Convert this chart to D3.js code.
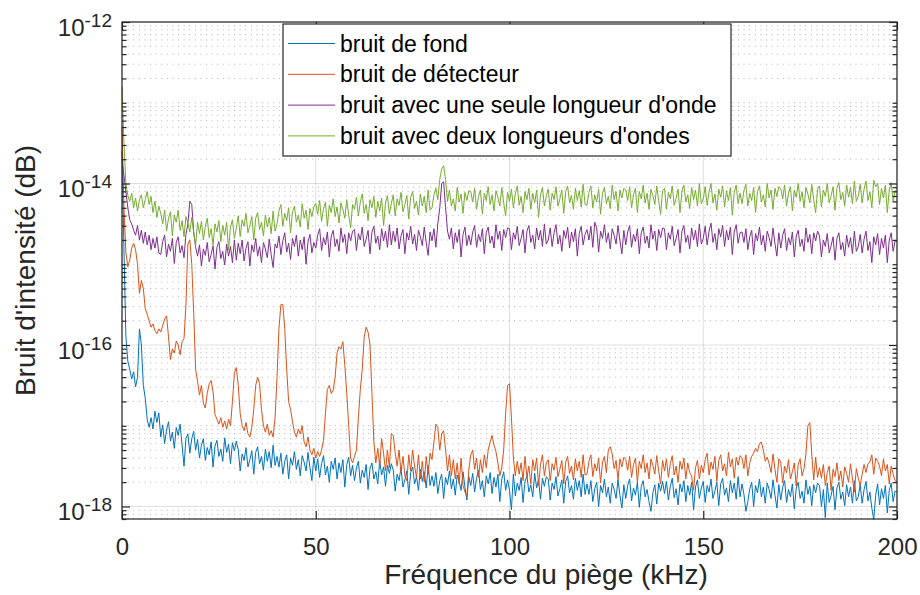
<!DOCTYPE html>
<meta charset="utf-8">
<title>Bruit d'intensité</title>
<style>
  body { margin: 0; background: #fff; }
  svg { font-family: "Liberation Sans", Arial, Helvetica, sans-serif; }
  .axis path, .axis line { stroke: #262626; stroke-width: 1.2; }
  .axis text { fill: #262626; }
  .grid line { stroke: #262626; }
  .grid.major line { stroke-opacity: 0.15; }
  .grid.minor line { stroke-opacity: 0.35; stroke-dasharray: 1,4.6; }
  path.trace { fill: none; stroke-width: 1; }
  .legend text { fill: #000; font-size: 23px; }
  .label { fill: #262626; font-size: 28px; }
</style>
<body>
<script src="https://d3js.org/d3.v7.min.js"></script>
<script>
// spectra sampled every 0.5 kHz from 0 to 200 kHz, values = log10(intensity)
var freqStep = 0.5;
var freq = d3.range(401).map(function(i) { return i * freqStep; });

var fondLog = [
  -13.6,-14.8,-15.9,-16.2,-16.3,-16.42,-16.33,-16.52,-16.4,-15.8,-16.0,-16.5,-16.66,-16.92,-17.02,-16.9,-17.04,-16.82,-16.96,-16.84,
  -17.14,-16.99,-17.22,-17.05,-16.95,-17.19,-17.08,-17.28,-17.02,-17.12,-16.98,-17.24,-17.5,-17.16,-17.1,-17.34,-17.16,-17.07,-17.3,-17.17,
  -17.4,-17.24,-17.16,-17.43,-17.27,-17.36,-17.2,-17.51,-17.25,-17.18,-17.38,-17.29,-17.44,-17.15,-17.33,-17.23,-17.47,-17.21,-17.31,-17.19,
  -17.3,-17.56,-17.35,-17.43,-17.27,-17.51,-17.42,-17.31,-17.6,-17.33,-17.26,-17.47,-17.38,-17.55,-17.29,-17.44,-17.32,-17.52,-17.24,-17.49,
  -17.38,-17.51,-17.34,-17.6,-17.44,-17.36,-17.66,-17.4,-17.49,-17.32,-17.54,-17.42,-17.62,-17.37,-17.45,-17.56,-17.33,-17.52,-17.68,-17.39,
  -17.56,-17.41,-17.64,-17.47,-17.37,-17.61,-17.5,-17.7,-17.44,-17.54,-17.4,-17.66,-17.46,-17.58,-17.42,-17.76,-17.48,-17.39,-17.62,-17.49,
  -17.68,-17.52,-17.44,-17.71,-17.55,-17.64,-17.48,-17.79,-17.53,-17.46,-17.66,-17.57,-17.72,-17.43,-17.61,-17.51,-17.75,-17.49,-17.59,-17.47,
  -17.55,-17.81,-17.6,-17.68,-17.52,-17.76,-17.67,-17.56,-17.85,-17.58,-17.51,-17.72,-17.63,-17.8,-17.54,-17.69,-17.57,-17.77,-17.49,-17.74,
  -17.62,-17.75,-17.58,-17.84,-17.68,-17.6,-17.9,-17.64,-17.73,-17.56,-17.78,-17.66,-17.86,-17.61,-17.69,-17.8,-17.57,-17.76,-17.92,-17.63,
  -17.74,-17.59,-17.82,-17.65,-17.55,-17.79,-17.68,-17.88,-17.62,-17.72,-17.58,-17.84,-17.64,-17.76,-17.6,-17.94,-17.66,-17.57,-17.8,-17.67,
  -17.8,-18.04,-17.6,-17.87,-17.71,-17.8,-17.64,-17.95,-17.69,-17.62,-17.82,-17.73,-17.88,-17.59,-17.77,-17.67,-17.91,-17.65,-17.75,-17.63,
  -17.66,-17.92,-17.71,-17.79,-17.63,-17.87,-17.78,-17.67,-17.96,-17.69,-17.62,-17.83,-17.74,-17.91,-17.65,-17.8,-17.68,-17.88,-17.6,-17.85,
  -17.72,-17.85,-17.68,-17.94,-17.78,-17.7,-18.0,-17.74,-17.83,-17.66,-17.88,-17.76,-17.96,-17.71,-17.79,-17.9,-17.67,-17.86,-18.02,-17.73,
  -17.9,-17.74,-17.66,-17.93,-17.77,-17.86,-17.7,-18.01,-17.75,-17.68,-17.88,-17.79,-17.94,-18.06,-17.83,-17.73,-17.97,-17.71,-17.81,-17.69,
  -17.84,-17.69,-17.92,-17.75,-17.65,-17.89,-17.78,-17.98,-17.72,-17.82,-17.68,-17.94,-17.74,-17.86,-17.7,-18.04,-17.76,-17.67,-17.9,-17.77,
  -17.69,-17.95,-17.74,-17.82,-17.66,-17.9,-17.81,-17.7,-17.99,-17.72,-17.65,-17.86,-17.77,-17.94,-17.68,-17.83,-17.71,-17.91,-17.63,-17.88,
  -17.72,-17.85,-18.06,-17.94,-17.78,-17.7,-18.0,-17.74,-17.83,-17.66,-17.88,-17.76,-17.96,-17.71,-17.79,-17.9,-17.67,-17.86,-18.02,-17.73,
  -17.92,-17.76,-17.68,-17.95,-17.79,-17.88,-17.72,-18.03,-17.77,-17.7,-17.9,-17.81,-17.96,-17.67,-17.85,-17.75,-17.99,-17.73,-17.83,-17.71,
  -17.74,-18.0,-17.79,-18.14,-17.71,-17.95,-17.86,-17.75,-18.04,-17.77,-17.7,-17.91,-17.82,-17.99,-17.73,-17.88,-17.76,-17.96,-17.68,-17.93,
  -17.88,-17.73,-17.96,-17.79,-17.69,-17.93,-17.82,-18.02,-18.16,-17.86,-17.72,-17.98,-17.78,-17.9,-17.74,-18.08,-17.8,-17.71,-17.94,-17.81,
  -17.82
];

var detecteurLog = [
  -13.3,-14.3,-14.85,-15.03,-14.95,-14.8,-14.74,-14.82,-15.0,-15.36,-15.2,-15.3,-15.55,-15.62,-15.7,-15.78,-15.74,-15.82,-15.86,-15.8,
  -15.84,-15.76,-15.68,-15.64,-15.9,-16.18,-16.05,-16.1,-15.95,-16.0,-16.12,-15.96,-15.92,-15.5,-14.75,-14.7,-15.0,-15.6,-16.3,-16.45,
  -16.62,-16.5,-16.72,-16.78,-16.6,-16.48,-16.44,-16.58,-16.86,-16.92,-16.98,-16.9,-17.02,-16.94,-17.04,-16.92,-17.0,-16.7,-16.35,-16.28,
  -16.5,-16.85,-17.0,-17.06,-16.96,-17.1,-17.14,-17.02,-16.8,-16.5,-16.4,-16.48,-16.8,-17.0,-17.08,-16.98,-17.12,-17.06,-17.14,-16.9,
  -16.4,-15.8,-15.5,-15.5,-15.8,-16.3,-16.7,-16.8,-16.95,-17.08,-17.14,-17.04,-17.1,-17.0,-17.2,-17.26,-17.14,-17.3,-17.36,-17.28,
  -17.4,-17.32,-17.38,-17.3,-17.18,-16.85,-16.55,-16.5,-16.6,-16.56,-16.4,-16.1,-16.02,-16.05,-15.96,-16.25,-16.6,-17.0,-17.4,-17.46,
  -17.38,-17.3,-16.9,-16.55,-16.3,-15.9,-15.78,-15.84,-16.0,-16.6,-17.2,-17.46,-17.28,-17.5,-17.16,-17.34,-17.56,-17.3,-17.52,-17.1,
  -17.12,-17.34,-17.5,-17.3,-17.58,-17.38,-17.62,-17.68,-17.36,-17.56,-17.3,-17.5,-17.64,-17.36,-17.66,-17.44,-17.7,-17.38,-17.6,-17.34,
  -17.42,-17.2,-16.98,-17.02,-17.3,-17.1,-17.06,-17.3,-17.56,-17.36,-17.62,-17.42,-17.66,-17.46,-17.72,-17.4,-17.74,-17.82,-17.88,-17.54,
  -17.36,-17.3,-17.54,-17.4,-17.64,-17.42,-17.58,-17.36,-17.52,-17.3,-17.2,-17.12,-17.24,-17.32,-17.46,-17.62,-17.52,-17.3,-16.85,-16.5,
  -16.48,-16.9,-17.4,-17.62,-17.44,-17.6,-17.46,-17.68,-17.38,-17.64,-17.5,-17.72,-17.42,-17.56,-17.4,-17.74,-17.48,-17.36,-17.62,-17.46,
  -17.42,-17.68,-17.47,-17.55,-17.39,-17.63,-17.54,-17.43,-17.72,-17.45,-17.38,-17.59,-17.5,-17.67,-17.41,-17.56,-17.44,-17.64,-17.36,-17.61,
  -17.6,-17.44,-17.36,-17.63,-17.47,-17.56,-17.4,-17.71,-17.45,-17.38,-17.58,-17.3,-17.26,-17.35,-17.53,-17.43,-17.67,-17.41,-17.51,-17.39,
  -17.42,-17.55,-17.38,-17.64,-17.48,-17.4,-17.7,-17.44,-17.53,-17.36,-17.58,-17.46,-17.66,-17.41,-17.49,-17.6,-17.37,-17.56,-17.72,-17.43,
  -17.56,-17.41,-17.64,-17.47,-17.37,-17.61,-17.5,-17.7,-17.44,-17.54,-17.4,-17.66,-17.46,-17.58,-17.62,-17.8,-17.52,-17.43,-17.66,-17.49,
  -17.58,-17.42,-17.34,-17.61,-17.45,-17.54,-17.38,-17.69,-17.43,-17.36,-17.56,-17.47,-17.62,-17.33,-17.51,-17.41,-17.65,-17.39,-17.49,-17.37,
  -17.4,-17.53,-17.36,-17.62,-17.46,-17.38,-17.34,-17.28,-17.32,-17.22,-17.2,-17.3,-17.44,-17.39,-17.47,-17.58,-17.35,-17.54,-17.7,-17.41,
  -17.45,-17.71,-17.5,-17.58,-17.42,-17.66,-17.57,-17.46,-17.75,-17.48,-17.41,-17.62,-17.53,-17.35,-17.0,-16.96,-17.35,-17.67,-17.39,-17.64,
  -17.52,-17.65,-17.48,-17.74,-17.58,-17.5,-17.8,-17.54,-17.63,-17.46,-17.68,-17.56,-17.76,-17.51,-17.59,-17.7,-17.47,-17.66,-17.82,-17.53,
  -17.65,-17.74,-17.6,-17.48,-17.58,-17.47,-17.45,-17.36,-17.6,-17.4,-17.44,-17.5,-17.62,-17.41,-17.56,-17.48,-17.72,-17.5,-17.6,-17.68,
  -17.7
];

var uneLongueurLog = [
  -13.7,-13.9,-14.1,-14.3,-14.45,-14.5,-14.58,-14.64,-14.52,-14.7,-14.58,-14.74,-14.6,-14.76,-14.64,-14.82,-14.68,-14.8,-14.66,-14.86,
  -14.88,-14.72,-14.64,-14.91,-14.75,-14.84,-14.68,-14.99,-14.73,-14.66,-14.86,-14.77,-14.92,-14.63,-14.5,-14.22,-14.26,-14.6,-14.79,-14.9,
  -14.76,-15.02,-14.81,-14.89,-14.73,-14.97,-14.88,-14.77,-15.06,-14.79,-14.72,-14.93,-14.84,-15.01,-14.75,-14.9,-14.78,-14.98,-14.7,-14.95,
  -14.74,-14.87,-14.7,-14.96,-14.8,-14.72,-15.02,-14.76,-14.85,-14.68,-14.9,-14.78,-14.98,-14.73,-14.81,-14.92,-14.69,-14.88,-15.04,-14.75,
  -14.8,-14.65,-14.88,-14.71,-14.61,-14.85,-14.74,-14.94,-14.68,-14.78,-14.64,-14.9,-14.7,-14.82,-14.66,-15.0,-14.72,-14.63,-14.86,-14.73,
  -14.8,-14.64,-14.56,-14.83,-14.67,-14.76,-14.6,-14.91,-14.65,-14.58,-14.78,-14.69,-14.84,-14.55,-14.73,-14.63,-14.87,-14.61,-14.71,-14.59,
  -14.57,-14.83,-14.62,-14.7,-14.54,-14.78,-14.69,-14.58,-14.87,-14.6,-14.53,-14.74,-14.65,-14.82,-14.56,-14.71,-14.59,-14.79,-14.51,-14.76,
  -14.59,-14.72,-14.55,-14.81,-14.65,-14.57,-14.87,-14.61,-14.7,-14.53,-14.75,-14.63,-14.83,-14.58,-14.66,-14.77,-14.54,-14.73,-14.89,-14.6,
  -14.71,-14.56,-14.79,-14.5,-14.3,-14.0,-13.98,-14.3,-14.59,-14.69,-14.55,-14.81,-14.61,-14.73,-14.57,-14.91,-14.63,-14.54,-14.77,-14.64,
  -14.76,-14.6,-14.52,-14.79,-14.63,-14.72,-14.56,-14.87,-14.61,-14.54,-14.74,-14.65,-14.8,-14.51,-14.69,-14.59,-14.83,-14.57,-14.67,-14.55,
  -14.56,-14.82,-14.61,-14.69,-14.53,-14.77,-14.68,-14.57,-14.86,-14.59,-14.52,-14.73,-14.64,-14.81,-14.55,-14.7,-14.58,-14.78,-14.5,-14.75,
  -14.7,-14.55,-14.78,-14.61,-14.51,-14.75,-14.64,-14.84,-14.58,-14.68,-14.54,-14.8,-14.6,-14.72,-14.56,-14.9,-14.62,-14.53,-14.76,-14.63,
  -14.57,-14.7,-14.53,-14.79,-14.48,-14.55,-14.85,-14.59,-14.68,-14.51,-14.73,-14.61,-14.81,-14.56,-14.64,-14.75,-14.52,-14.71,-14.87,-14.58,
  -14.76,-14.6,-14.52,-14.79,-14.63,-14.72,-14.56,-14.87,-14.61,-14.54,-14.74,-14.65,-14.8,-14.51,-14.69,-14.59,-14.83,-14.57,-14.67,-14.55,
  -14.56,-14.82,-14.61,-14.69,-14.53,-14.77,-14.68,-14.57,-14.86,-14.59,-14.52,-14.73,-14.64,-14.81,-14.55,-14.7,-14.58,-14.78,-14.5,-14.75,
  -14.68,-14.53,-14.76,-14.59,-14.49,-14.73,-14.62,-14.82,-14.56,-14.66,-14.52,-14.78,-14.58,-14.7,-14.54,-14.88,-14.6,-14.51,-14.74,-14.61,
  -14.6,-14.73,-14.56,-14.82,-14.66,-14.58,-14.88,-14.62,-14.71,-14.54,-14.76,-14.64,-14.84,-14.59,-14.67,-14.78,-14.55,-14.74,-14.9,-14.61,
  -14.8,-14.64,-14.56,-14.83,-14.67,-14.76,-14.6,-14.91,-14.65,-14.58,-14.78,-14.69,-14.84,-14.55,-14.73,-14.63,-14.87,-14.61,-14.71,-14.59,
  -14.65,-14.91,-14.7,-14.78,-14.62,-14.86,-14.77,-14.66,-14.95,-14.68,-14.61,-14.82,-14.73,-14.9,-14.64,-14.79,-14.67,-14.87,-14.59,-14.84,
  -14.78,-14.63,-14.86,-14.69,-14.59,-14.83,-14.72,-14.98,-14.66,-14.76,-14.62,-14.88,-14.68,-14.8,-14.64,-14.98,-14.7,-14.61,-14.84,-14.71,
  -14.72
];

var deuxLongueursLog = [
  -12.8,-13.5,-14.0,-14.15,-14.22,-14.12,-14.3,-14.18,-14.34,-14.2,-14.14,-14.3,-14.2,-14.1,-14.26,-14.16,-14.36,-14.22,-14.42,-14.28,
  -14.37,-14.5,-14.33,-14.59,-14.43,-14.35,-14.65,-14.39,-14.48,-14.33,-14.58,-14.46,-14.66,-14.41,-14.49,-14.6,-14.42,-14.61,-14.77,-14.48,
  -14.62,-14.47,-14.7,-14.53,-14.43,-14.67,-14.56,-14.76,-14.5,-14.6,-14.46,-14.72,-14.52,-14.64,-14.48,-14.82,-14.54,-14.45,-14.68,-14.55,
  -14.4,-14.66,-14.45,-14.53,-14.37,-14.61,-14.52,-14.41,-14.7,-14.43,-14.36,-14.57,-14.48,-14.65,-14.39,-14.54,-14.42,-14.62,-14.34,-14.59,
  -14.5,-14.34,-14.26,-14.53,-14.37,-14.46,-14.3,-14.61,-14.35,-14.28,-14.48,-14.39,-14.54,-14.25,-14.43,-14.33,-14.57,-14.31,-14.41,-14.29,
  -14.25,-14.38,-14.21,-14.47,-14.31,-14.23,-14.53,-14.27,-14.36,-14.19,-14.41,-14.29,-14.49,-14.24,-14.32,-14.43,-14.2,-14.39,-14.55,-14.26,
  -14.32,-14.17,-14.4,-14.23,-14.13,-14.37,-14.26,-14.46,-14.2,-14.3,-14.16,-14.42,-14.22,-14.34,-14.18,-14.52,-14.24,-14.15,-14.38,-14.25,
  -14.14,-14.4,-14.19,-14.27,-14.11,-14.35,-14.26,-14.15,-14.44,-14.17,-14.1,-14.31,-14.22,-14.39,-14.13,-14.28,-14.16,-14.36,-14.08,-14.33,
  -14.3,-14.14,-14.06,-14.2,-13.95,-13.82,-13.78,-13.95,-14.22,-14.08,-14.28,-14.19,-14.34,-14.05,-14.23,-14.13,-14.37,-14.11,-14.21,-14.09,
  -14.1,-14.23,-14.06,-14.32,-14.16,-14.08,-14.38,-14.12,-14.21,-14.04,-14.26,-14.14,-14.34,-14.09,-14.17,-14.28,-14.05,-14.24,-14.4,-14.11,
  -14.22,-14.07,-14.3,-14.13,-14.03,-14.27,-14.16,-14.36,-14.1,-14.2,-14.06,-14.32,-14.12,-14.24,-14.08,-14.42,-14.14,-14.05,-14.28,-14.15,
  -14.07,-14.33,-14.12,-14.2,-14.04,-14.28,-14.19,-14.08,-14.37,-14.1,-14.03,-14.24,-14.15,-14.32,-14.06,-14.21,-14.09,-14.29,-14.01,-14.26,
  -14.27,-14.11,-14.03,-14.3,-14.14,-14.23,-14.07,-14.38,-14.12,-14.05,-14.25,-14.16,-14.31,-14.02,-14.2,-14.1,-14.34,-14.08,-14.18,-14.06,
  -14.08,-14.21,-14.04,-14.3,-14.14,-14.06,-14.36,-14.1,-14.19,-14.02,-14.24,-14.12,-14.32,-14.07,-14.15,-14.26,-14.03,-14.22,-14.38,-14.09,
  -14.06,-14.32,-14.11,-14.19,-14.03,-14.27,-14.18,-14.07,-14.36,-14.09,-14.02,-14.23,-14.14,-14.31,-14.05,-14.2,-14.08,-14.28,-14.0,-14.25,
  -14.19,-14.04,-14.27,-14.1,-14.0,-14.24,-14.13,-14.33,-14.07,-14.17,-14.03,-14.29,-14.09,-14.21,-14.05,-14.39,-14.11,-14.02,-14.25,-14.12,
  -14.25,-14.09,-14.01,-14.28,-14.12,-14.21,-14.05,-14.36,-14.1,-14.03,-14.23,-14.14,-14.29,-14.0,-14.18,-14.08,-14.32,-14.06,-14.16,-14.04,
  -14.06,-14.19,-14.02,-14.28,-14.12,-14.04,-14.34,-14.08,-14.17,-14.0,-14.22,-14.1,-14.3,-14.05,-14.13,-14.24,-14.01,-14.2,-14.36,-14.07,
  -14.03,-14.29,-14.08,-14.16,-14.0,-14.24,-14.15,-14.04,-14.33,-14.06,-13.99,-14.2,-14.11,-14.28,-14.02,-14.17,-14.05,-14.25,-13.97,-14.22,
  -14.16,-14.01,-14.24,-14.07,-13.97,-14.21,-14.1,-14.3,-13.96,-14.04,-14.0,-14.26,-14.06,-14.18,-14.02,-14.36,-14.08,-13.99,-14.22,-14.09,
  -14.1
];

var legendLabels = ["bruit de fond", "bruit de détecteur", "bruit avec une seule longueur d'onde", "bruit avec deux longueurs d'ondes"];
var colors = ["#0072BD", "#D95319", "#7E2F8E", "#77AC30"];
var xTicks = [0, 50, 100, 150, 200];
var yMajor = [1e-12, 1e-14, 1e-16, 1e-18];

var series = [fondLog, detecteurLog, uneLongueurLog, deuxLongueursLog].map(function(v, i) {
  return { name: legendLabels[i], color: colors[i], values: v };
});

var margin = {top: 22, right: 23, bottom: 76, left: 122},
    width = 920 - margin.left - margin.right,
    height = 595 - margin.top - margin.bottom;

var x = d3.scaleLinear().domain([0, 200]).range([0, width]);
var y = d3.scaleLog().domain([7e-19, 1e-12]).range([height, 0]);

var isMajor = function(t) { return yMajor.some(function(m) { return Math.abs(Math.log10(t) - Math.log10(m)) < 1e-6; }); };
var yMinor = y.ticks().filter(function(t) { return !isMajor(t); });

var svg = d3.select("body").append("svg")
    .attr("width", 920)
    .attr("height", 595)
  .append("g")
    .attr("transform", "translate(" + margin.left + "," + margin.top + ")");

// grid
svg.append("g").attr("class", "grid minor")
  .selectAll("line").data(yMinor).enter().append("line")
    .attr("x1", 0).attr("x2", width)
    .attr("y1", function(d) { return y(d); }).attr("y2", function(d) { return y(d); });

svg.append("g").attr("class", "grid major")
  .selectAll("line").data(yMajor).enter().append("line")
    .attr("x1", 0).attr("x2", width)
    .attr("y1", function(d) { return y(d); }).attr("y2", function(d) { return y(d); });

svg.append("g").attr("class", "grid major")
  .selectAll("line").data(xTicks).enter().append("line")
    .attr("x1", function(d) { return x(d); }).attr("x2", function(d) { return x(d); })
    .attr("y1", 0).attr("y2", height);

// traces
var line = d3.line()
    .x(function(d, i) { return x(freq[i]); })
    .y(function(d) { return y(Math.pow(10, d)); });

svg.append("g")
  .selectAll("path").data(series).enter().append("path")
    .attr("class", "trace")
    .attr("stroke", function(d) { return d.color; })
    .attr("d", function(d) { return line(d.values); });

// axes
function noDomain(g) { g.select(".domain").remove(); }

svg.append("g").attr("class", "axis")
  .call(d3.axisLeft(y).tickValues(yMinor).tickSize(-4.5).tickFormat(""))
  .call(noDomain);
svg.append("g").attr("class", "axis")
  .attr("transform", "translate(" + width + ",0)")
  .call(d3.axisRight(y).tickValues(yMinor).tickSize(-4.5).tickFormat(""))
  .call(noDomain);
svg.append("g").attr("class", "axis")
  .attr("transform", "translate(" + width + ",0)")
  .call(d3.axisRight(y).tickValues(yMajor).tickSize(-8).tickFormat(""))
  .call(noDomain);

var yAxisG = svg.append("g").attr("class", "axis")
  .call(d3.axisLeft(y).tickValues(yMajor).tickSize(-8).tickFormat(""))
  .call(noDomain);
yAxisG.selectAll(".tick text").remove();
var yLab = yAxisG.selectAll(".tick").append("text")
    .attr("x", -10)
    .attr("y", 13.5)
    .attr("text-anchor", "end")
    .style("font-size", "24px");
yLab.append("tspan").text("10");
yLab.append("tspan")
    .attr("dy", -9)
    .style("font-size", "19px")
    .text(function(d) { return "-" + Math.round(-Math.log10(d)); });

svg.append("g").attr("class", "axis")
  .attr("transform", "translate(0," + height + ")")
  .call(d3.axisBottom(x).tickValues(xTicks).tickSize(-8).tickPadding(19).tickFormat(d3.format("d")))
  .call(noDomain)
  .selectAll("text").style("font-size", "24px").attr("dy", "0.71em");
svg.append("g").attr("class", "axis")
  .call(d3.axisTop(x).tickValues(xTicks).tickSize(-8).tickFormat(""))
  .call(noDomain);

// box
svg.append("rect")
    .attr("width", width).attr("height", height)
    .attr("fill", "none").attr("stroke", "#262626").attr("stroke-width", 1.2);

// labels
svg.append("text").attr("class", "label")
    .attr("x", 424).attr("y", height + 65)
    .attr("text-anchor", "middle")
    .text("Fréquence du piège (kHz)");
svg.append("text").attr("class", "label")
    .attr("transform", "translate(" + (-87) + "," + (height / 2) + ") rotate(-90)")
    .attr("text-anchor", "middle")
    .text("Bruit d'intensité (dB)");

// legend
var legend = svg.append("g").attr("class", "legend")
    .attr("transform", "translate(161,2)");
legend.append("rect")
    .attr("width", 448).attr("height", 132)
    .attr("fill", "#fff").attr("stroke", "#262626").attr("stroke-width", 1.2);
var row = legend.selectAll("g.row").data(series).enter().append("g")
    .attr("class", "row")
    .attr("transform", function(d, i) { return "translate(0," + (19.5 + i * 30.8) + ")"; });
row.append("line")
    .attr("x1", 5).attr("x2", 52)
    .attr("stroke", function(d) { return d.color; }).attr("stroke-width", 1);
row.append("text")
    .attr("x", 57).attr("y", 8)
    .text(function(d) { return d.name; });
</script>
</body>
